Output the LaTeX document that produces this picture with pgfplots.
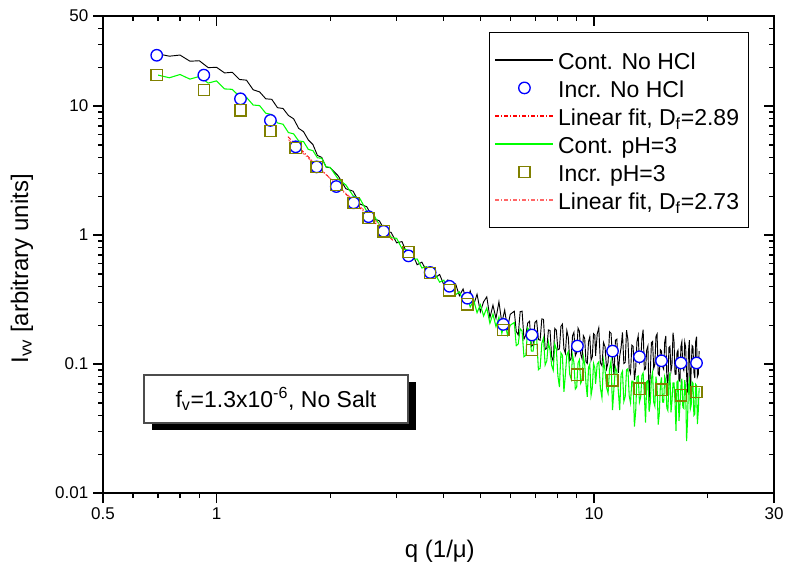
\documentclass[border=0pt]{standalone}
\usepackage{fontspec}
\setmainfont{Liberation Sans}
\usepackage{pgfplots}
\usepackage{pgfplotstable}
\pgfplotsset{compat=1.18}
\usetikzlibrary{shadows}
\definecolor{olivec}{RGB}{128,128,0}
\definecolor{brightgreen}{RGB}{0,255,0}

\pgfplotstableread{
q I
0.70 25.4
0.75 24.4
0.80 24.9
0.85 22.3
0.90 22.5
0.95 19.9
1.00 20.0
1.05 18.1
1.10 18.3
1.15 16.1
1.20 15.9
1.25 13.4
1.30 12.9
1.35 11.4
1.40 11.3
1.45 9.73
1.50 9.59
1.55 8.47
1.60 7.98
1.65 6.73
1.70 6.34
1.75 5.47
1.80 5.04
1.85 4.15
1.90 4.00
1.95 3.37
2.00 3.33
2.1 2.88
2.2 2.29
2.3 2.19
2.4 1.74
2.5 1.66
2.6 1.35
2.7 1.29
2.8 1.07
2.9 1.05
3.0 0.871
3.1 0.891
3.2 0.708
3.3 0.724
3.4 0.589
3.5 0.617
3.6 0.525
3.7 0.550
3.8 0.468
3.9 0.495
4.0 0.412
4.1 0.449
4.2 0.372
4.3 0.417
4.4 0.339
4.5 0.382
4.6 0.305
4.7 0.369
4.8 0.288
4.9 0.348
5.0 0.254
5.1 0.304
5.2 0.332
5.3 0.229
5.4 0.286
5.5 0.226
5.6 0.304
5.7 0.209
5.8 0.262
5.9 0.189
6.0 0.243
6.15 0.257
6.225 0.179
6.30 0.168
6.375 0.255
6.45 0.257
6.525 0.156
6.60 0.168
6.675 0.208
6.75 0.215
6.825 0.137
6.90 0.141
6.975 0.210
7.05 0.217
7.125 0.155
7.20 0.153
7.275 0.224
7.35 0.222
7.425 0.130
7.50 0.132
7.575 0.184
7.65 0.182
7.725 0.114
7.80 0.105
7.875 0.189
7.95 0.183
8.025 0.129
8.10 0.131
8.175 0.196
8.25 0.204
8.325 0.131
8.40 0.121
8.475 0.182
8.55 0.161
8.625 0.106
8.70 0.110
8.775 0.166
8.85 0.176
8.925 0.116
9.00 0.123
9.075 0.190
9.15 0.180
9.225 0.119
9.30 0.110
9.375 0.166
9.45 0.158
9.525 0.104
9.60 0.101
9.675 0.149
9.75 0.163
9.825 0.107
9.90 0.114
9.975 0.172
10.05 0.168
10.1 0.116
10.2 0.171
10.3 0.191
10.4 0.102
10.5 0.0970
10.6 0.147
10.7 0.136
10.8 0.0918
10.9 0.103
11.0 0.178
11.1 0.173
11.2 0.111
11.3 0.0822
11.4 0.153
11.5 0.156
11.6 0.0853
11.7 0.115
11.8 0.134
11.9 0.176
12.0 0.101
12.1 0.103
12.2 0.183
12.3 0.155
12.4 0.0912
12.5 0.0847
12.6 0.140
12.7 0.137
12.8 0.0750
12.9 0.0918
13.0 0.149
13.1 0.166
13.2 0.102
13.3 0.107
13.4 0.157
13.5 0.185
13.6 0.0902
13.7 0.0918
13.8 0.129
13.9 0.138
14.0 0.0513
14.1 0.0849
14.2 0.147
14.3 0.150
14.4 0.0927
14.5 0.0991
14.6 0.164
14.7 0.171
14.8 0.0839
14.9 0.0818
15.0 0.129
15.1 0.126
15.2 0.0957
15.3 0.0912
15.4 0.148
15.5 0.165
15.6 0.0791
15.7 0.0671
15.8 0.134
15.9 0.137
16.0 0.0881
16.1 0.0986
16.2 0.175
16.3 0.149
16.4 0.0834
16.5 0.0832
16.6 0.123
16.7 0.128
16.8 0.0753
16.9 0.0735
17.0 0.137
17.1 0.149
17.2 0.0940
17.3 0.0895
17.4 0.148
17.5 0.135
17.6 0.0830
17.7 0.0600
17.8 0.125
17.9 0.153
18.0 0.0531
18.1 0.0920
18.2 0.139
18.3 0.136
18.4 0.0857
18.5 0.0780
18.6 0.149
18.7 0.163
18.8 0.0796
18.9 0.0832
19.0 0.126
}\contnohcl

\pgfplotstableread{
q I
0.70 17.4
0.75 16.6
0.80 17.6
0.85 16.2
0.90 17.0
0.95 15.1
1.00 15.7
1.05 13.6
1.10 13.5
1.15 11.9
1.20 11.7
1.25 10.2
1.30 10.1
1.35 8.81
1.40 8.61
1.45 7.41
1.50 7.24
1.55 6.24
1.60 6.10
1.65 5.37
1.70 5.31
1.75 4.62
1.80 4.52
1.85 3.98
1.90 3.94
1.95 3.39
2.00 3.35
2.1 2.72
2.2 2.45
2.3 2.02
2.4 1.91
2.5 1.53
2.6 1.46
2.7 1.20
2.8 1.16
2.9 0.955
3.0 0.944
3.1 0.785
3.2 0.767
3.3 0.646
3.4 0.653
3.5 0.556
3.6 0.569
3.7 0.490
3.8 0.495
3.9 0.432
4.0 0.447
4.1 0.386
4.2 0.403
4.3 0.345
4.4 0.363
4.5 0.309
4.6 0.339
4.7 0.277
4.8 0.313
4.9 0.250
5.0 0.288
5.1 0.236
5.2 0.272
5.3 0.207
5.4 0.244
5.5 0.195
5.6 0.231
5.7 0.173
5.8 0.215
5.9 0.168
6.0 0.200
6.15 0.210
6.225 0.139
6.30 0.143
6.375 0.188
6.45 0.180
6.525 0.114
6.60 0.117
6.675 0.190
6.75 0.182
6.825 0.126
6.90 0.126
6.975 0.167
7.05 0.160
7.125 0.0904
7.20 0.0929
7.275 0.145
7.35 0.159
7.425 0.0984
7.50 0.106
7.575 0.147
7.65 0.128
7.725 0.0977
7.80 0.0895
7.875 0.143
7.95 0.131
8.025 0.0811
8.10 0.0664
8.175 0.122
8.25 0.117
8.325 0.0608
8.40 0.0828
8.475 0.118
8.55 0.125
8.625 0.0832
8.70 0.0766
8.775 0.117
8.85 0.103
8.925 0.0640
9.00 0.0661
9.075 0.102
9.15 0.108
9.225 0.0710
9.30 0.0755
9.375 0.114
9.45 0.100
9.525 0.0706
9.60 0.0557
9.675 0.0942
9.75 0.100
9.825 0.0574
9.90 0.0655
9.975 0.101
10.05 0.0933
10.1 0.0701
10.2 0.100
10.3 0.104
10.4 0.0652
10.5 0.0550
10.6 0.106
10.7 0.0895
10.8 0.0658
10.9 0.0594
11.0 0.0912
11.1 0.106
11.2 0.0439
11.3 0.0658
11.4 0.0942
11.5 0.0871
11.6 0.0625
11.7 0.0439
11.8 0.0828
11.9 0.0879
12.0 0.0513
12.1 0.0560
12.2 0.0904
12.3 0.0920
12.4 0.0565
12.5 0.0501
12.6 0.0738
12.7 0.0735
12.8 0.0327
12.9 0.0429
13.0 0.0794
13.1 0.0809
13.2 0.0508
13.3 0.0555
13.4 0.0817
13.5 0.0851
13.6 0.0573
13.7 0.0352
13.8 0.0731
13.9 0.0745
14.0 0.0427
14.1 0.0500
14.2 0.0772
14.3 0.0863
14.4 0.0507
14.5 0.0472
14.6 0.0798
14.7 0.0662
14.8 0.0339
14.9 0.0416
15.0 0.0688
15.1 0.0787
15.2 0.0507
15.3 0.0506
15.4 0.0799
15.5 0.0743
15.6 0.0457
15.7 0.0436
15.8 0.0704
15.9 0.0863
16.0 0.0422
16.1 0.0518
16.2 0.0714
16.3 0.0713
16.4 0.0504
16.5 0.0303
16.6 0.0726
16.7 0.0741
16.8 0.0362
16.9 0.0478
17.0 0.0673
17.1 0.0771
17.2 0.0463
17.3 0.0453
17.4 0.0750
17.5 0.0652
17.6 0.0253
17.7 0.0366
17.8 0.0679
17.9 0.0743
18.0 0.0447
18.1 0.0479
18.2 0.0726
18.3 0.0710
18.4 0.0400
18.5 0.0409
18.6 0.0697
18.7 0.0681
18.8 0.0342
18.9 0.0432
19.0 0.0653
}\contph

\pgfplotstableread{
q I
0.694 24.8
0.925 17.4
1.157 11.4
1.389 7.75
1.620 4.84
1.842 3.38
2.076 2.38
2.307 1.78
2.527 1.39
2.770 1.07
3.225 0.690
3.681 0.513
4.140 0.401
4.620 0.324
5.75 0.203
6.85 0.168
9.04 0.138
11.2 0.126
13.2 0.114
15.1 0.106
17.0 0.102
18.7 0.102
}\incrnohcl

\pgfplotstableread{
q I
0.694 17.4
0.925 13.3
1.157 9.27
1.389 6.41
1.620 4.75
1.842 3.38
2.076 2.44
2.307 1.78
2.527 1.36
2.770 1.07
3.225 0.738
3.681 0.51
4.140 0.373
4.620 0.290
5.75 0.183
6.85 0.128
9.04 0.0828
11.2 0.0748
13.2 0.0644
15.1 0.0633
17.0 0.0572
18.7 0.0608
}\incrph

\begin{document}
\begin{tikzpicture}
\path[use as bounding box] (-77.25pt,-57pt) rectangle (513.75pt,369.75pt);
\begin{axis}[
  at={(0pt,0pt)}, anchor=south west,
  scale only axis, width=503.25pt, height=357.75pt,
  xmode=log, ymode=log,
  xmin=0.5, xmax=30, ymin=0.01, ymax=50,
  xtick={0.5,1,10,30}, xticklabels={0.5,1,10,30},
  minor xtick={0.6,0.7,0.8,0.9,2,3,4,5,6,7,8,9,20},
  ytick={0.01,0.1,1,10,50}, yticklabels={0.01,0.1,1,10,50},
  minor ytick={0.02,0.03,0.04,0.05,0.06,0.07,0.08,0.09,0.2,0.3,0.4,0.5,0.6,0.7,0.8,0.9,2,3,4,5,6,7,8,9,20,30,40},
  xtick pos=left, ytick pos=left,
  tick align=outside,
  major tick length=7.5pt, minor tick length=3.75pt,
  tick style={line width=1pt, black},
  axis line style={line width=1pt},
  /pgf/number format/assume math mode=true,
  tick label style={font=\fontsize{12.75pt}{15pt}\selectfont},
  xlabel={q (1/μ)},
  ylabel={I\textsubscript{vv} [arbitrary units]},
  label style={font=\fontsize{18pt}{21pt}\selectfont},
  xlabel style={at={(axis description cs:0.502,-0.1216)}, anchor=center},
  ylabel style={at={(axis description cs:-0.1207,0.47)}, anchor=center},
  legend cell align=left,
  legend image code/.code={\draw[mark repeat=2,mark phase=2,#1] plot coordinates {(0pt,0pt) (21.75pt,0pt) (43.5pt,0pt)};},
  legend image post style={line width=1pt},
  legend style={at={(axis description cs:0.9627,0.9665)}, anchor=north east,
    draw=black, line width=0.9pt, inner xsep=4pt, inner ysep=10pt, row sep=0pt,
    font=\fontsize{17.25pt}{20pt}\selectfont,
    nodes={text height=15pt, text depth=0pt, inner sep=3pt}},
]
\addplot[black, line width=0.7pt] table[x=q, y=I] {\contnohcl};
\addlegendentry{Cont. No HCl}
\addplot[only marks, mark=*, mark size=4.3pt, mark options={draw=blue, fill=white, line width=1pt}] table[x=q, y=I] {\incrnohcl};
\addlegendentry{Incr. No HCl}
\addplot[red, line width=0.75pt, dash pattern=on 3pt off 1.5pt on 0.75pt off 1.5pt] coordinates {(1.545,5.80) (2.93,0.912)};
\addlegendentry{Linear fit, D\textsubscript{f}=2.89}
\addplot[brightgreen, line width=0.8pt] table[x=q, y=I] {\contph};
\addlegendentry{Cont. pH=3}
\addplot[only marks, mark=square, mark size=4.2pt, mark options={draw=olivec, line width=1pt}] table[x=q, y=I] {\incrph};
\addlegendentry{Incr. pH=3}
\addplot[red!60, line width=0.75pt, dash pattern=on 3pt off 1.5pt on 0.75pt off 1.5pt] coordinates {(1.55,5.5) (2.95,0.95)};
\addlegendentry{Linear fit, D\textsubscript{f}=2.73}
\node[draw=black!70, line width=0.9pt, fill=white,
  drop shadow={shadow xshift=6pt, shadow yshift=-5.25pt, fill=black, opacity=1},
  minimum width=198pt, minimum height=36pt, inner sep=0pt,
  font=\fontsize{17.25pt}{20pt}\selectfont]
  at (axis description cs:0.2578,0.197) {f\textsubscript{v}=1.3x10\textsuperscript{-6}, No Salt};
\end{axis}
\begin{axis}[
  at={(0pt,0pt)}, anchor=south west,
  scale only axis, width=503.25pt, height=357.75pt,
  xmode=log, ymode=log,
  xmin=0.5, xmax=30, ymin=0.01, ymax=50,
  xtick={0.5,1,10,30}, xticklabels={},
  minor xtick={0.6,0.7,0.8,0.9,2,3,4,5,6,7,8,9,20},
  ytick={0.01,0.1,1,10,50}, yticklabels={},
  minor ytick={0.02,0.03,0.04,0.05,0.06,0.07,0.08,0.09,0.2,0.3,0.4,0.5,0.6,0.7,0.8,0.9,2,3,4,5,6,7,8,9,20,30,40},
  xtick pos=right, ytick pos=right,
  tick align=inside,
  major tick length=7.5pt, minor tick length=3.75pt,
  tick style={line width=1pt, black},
  axis line style={draw=none},
]
\end{axis}
\end{tikzpicture}
\end{document}
